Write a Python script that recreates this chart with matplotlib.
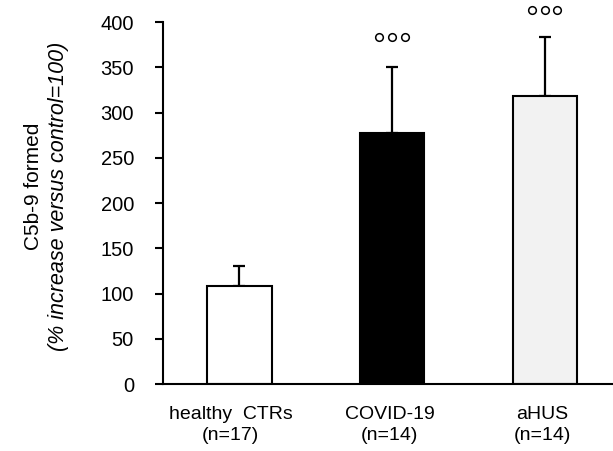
import numpy as np
import matplotlib.pyplot as plt
import matplotlib.transforms as mtransforms

plt.rcParams['font.family'] = ['Liberation Sans', 'DejaVu Sans']

groups = ['healthy  CTRs\n(n=17)', 'COVID-19\n(n=14)', 'aHUS\n(n=14)']
means = [108, 278, 318]
sem = [23, 72, 65]
colors = ['white', 'black', '#f2f2f2']
# marker height for the significance circles (vs. controls)
sig_y = [None, 383, 413]

fig = plt.figure(figsize=(6.13, 4.51), dpi=100)
ax = fig.add_axes([0.266, 0.148, 0.734, 0.803])

x = np.arange(len(groups))
ax.bar(x, means, width=0.42, color=colors, edgecolor='black', linewidth=1.5, zorder=2)
ax.errorbar(x, means, yerr=[np.zeros(len(sem)), sem], fmt='none', ecolor='black',
            elinewidth=1.6, capsize=4, capthick=1.6, zorder=1)

for xi, sy in zip(x, sig_y):
    if sy is None:
        continue
    ax.plot(xi + np.array([-0.083, 0, 0.083]), [sy] * 3, 'o', ms=5.5, mfc='white',
            mec='black', mew=1.1, clip_on=False)

ax.set_xlim(-0.501, 2.448)
ax.set_ylim(0, 400)
ax.set_yticks(range(0, 401, 50))
ax.set_xticks(x)
ax.set_xticklabels(groups, fontsize=14, linespacing=1.25)
ax.tick_params(axis='y', labelsize=14.5, length=6, width=1.5, direction='out', pad=15)
ax.tick_params(axis='x', length=0, pad=16)
for s in ['top', 'right']:
    ax.spines[s].set_visible(False)
for s in ['left', 'bottom']:
    ax.spines[s].set_linewidth(1.5)

# labels sit slightly left of the bar centres in the original
shifts = [-9, -2.5, -2.5]
for lab, dx in zip(ax.get_xticklabels(), shifts):
    lab.set_transform(lab.get_transform() + mtransforms.ScaledTranslation(dx / 100, 0, fig.dpi_scale_trans))

fig.text(0.054, 0.586, 'C5b-9 formed', rotation=90, ha='center', va='center', fontsize=15)
fig.text(0.096, 0.564, '(% increase versus control=100)', rotation=90, ha='center',
         va='center', fontsize=15.5, style='italic')

fig.savefig('out.png', dpi=100)
